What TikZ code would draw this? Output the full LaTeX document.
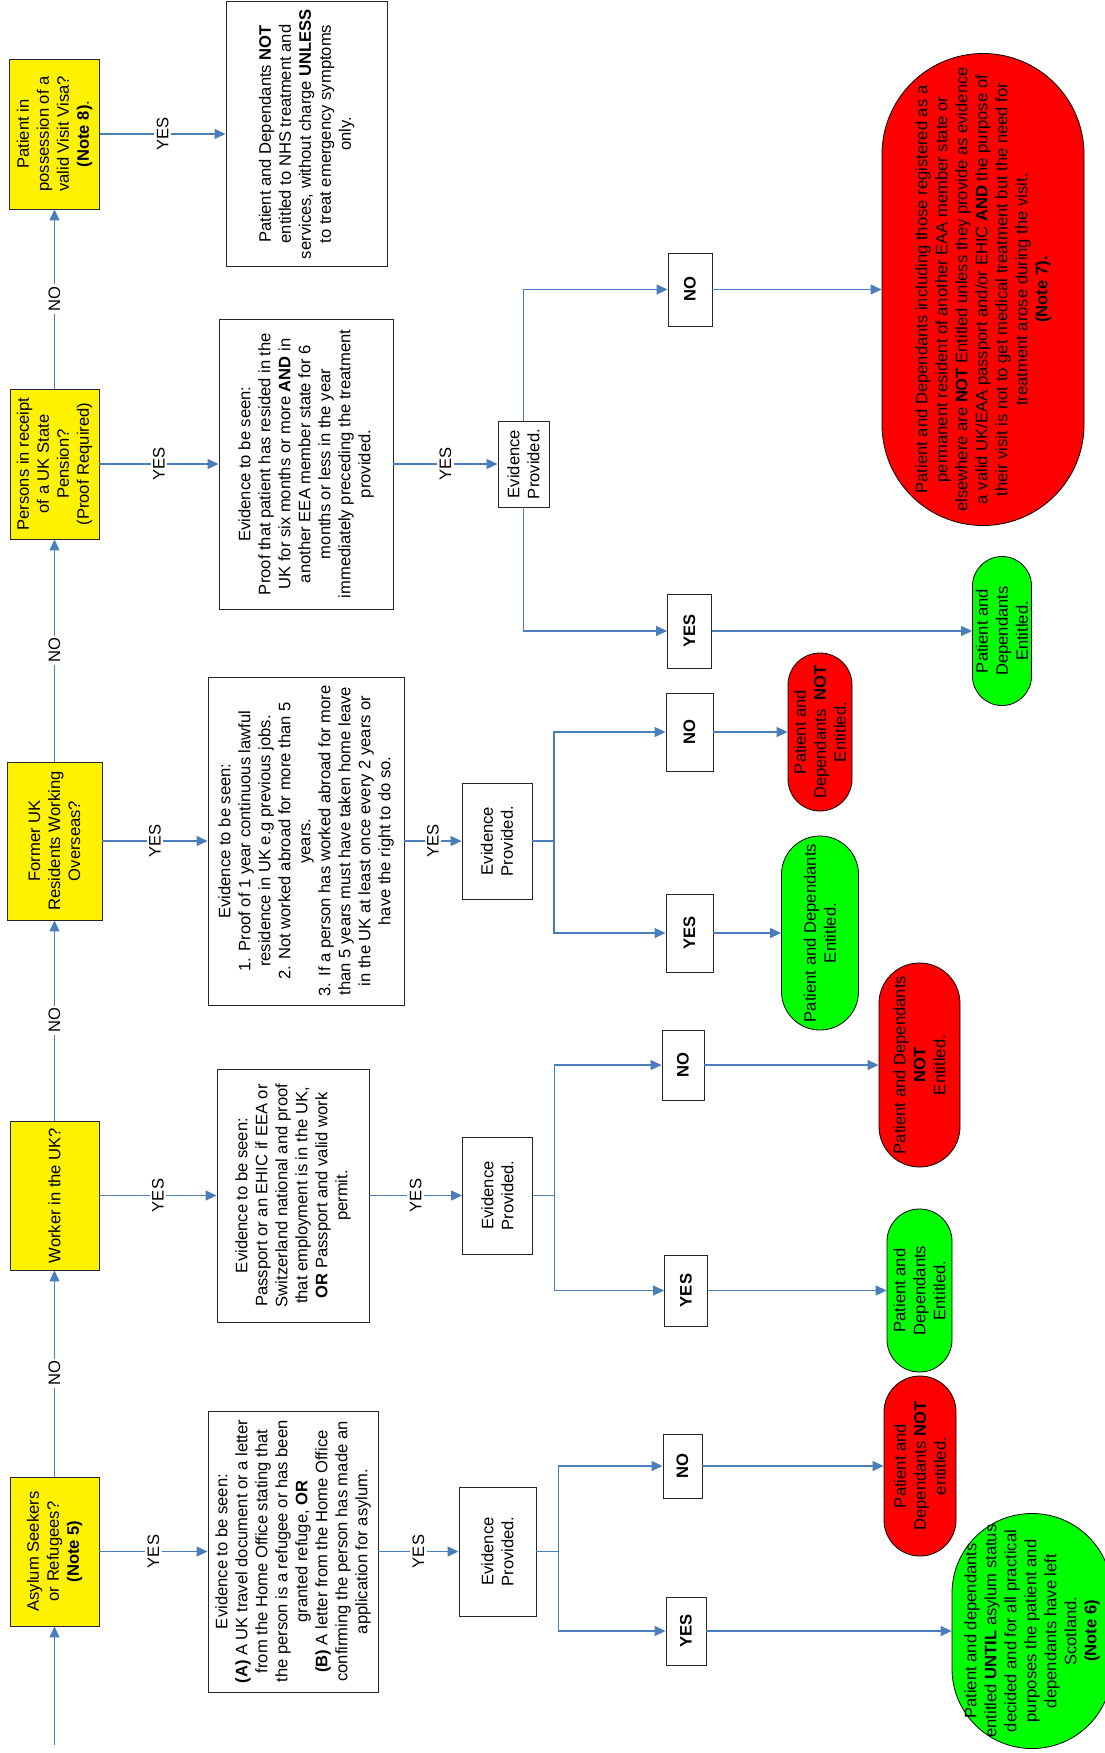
\documentclass[tikz,border=0pt]{standalone}
\usepackage{fontspec}
\setmainfont{Liberation Sans}
\usetikzlibrary{arrows.meta}
\definecolor{lineblue}{HTML}{4A7EBB}
\begin{document}
\begin{tikzpicture}[x=1pt,y=-1pt,
  every node/.style={font=\fontsize{16.6}{20}\selectfont, align=center, inner sep=2pt},
  rbox/.style={rotate=90, rectangle, draw=black!85, line width=0.9pt, fill=white},
  ybox/.style={rbox, fill=yellow},
  term/.style={rotate=90, rectangle, draw=black, line width=0.8pt},
  redt/.style={term, fill=red},
  greent/.style={term, fill=green},
  conn/.style={draw=lineblue, line width=1.2pt},
  arr/.style={conn, -{Triangle[length=11pt,width=10pt]}},
  lbl/.style={rotate=90, fill=white, inner sep=2.5pt}
]
\useasboundingbox (0,0) rectangle (1105,1753);
\clip (0,0) rectangle (1105,1753);

% ---------- question boxes (spine) ----------
\node[ybox, minimum width=150pt, minimum height=90pt] (visa) at (54.5,134)
  {Patient in\\possession of a\\valid Visit Visa?\\\textbf{(Note 8)}.};
\node[ybox, minimum width=150pt, minimum height=89pt] (pens) at (54.5,464)
  {Persons in receipt\\of a UK State\\Pension?\\(Proof Required)};
\node[ybox, minimum width=158pt, minimum height=95pt] (former) at (54.5,841)
  {Former UK\\Residents Working\\Overseas?};
\node[ybox, minimum width=149pt, minimum height=89pt] (worker) at (54.5,1195.5)
  {Worker in the UK?};
\node[ybox, minimum width=149pt, minimum height=89pt] (asylum) at (54.5,1551.5)
  {Asylum Seekers\\or Refugees?\\\textbf{(Note 5)}};

% ---------- evidence boxes ----------
\node[rbox, minimum width=265pt, minimum height=161pt] (visaRes) at (306.5,134)
  {Patient and Dependants \textbf{NOT}\\entitled to NHS treatment and\\services, without charge \textbf{UNLESS}\\to treat emergency symptoms\\only.};
\node[rbox, minimum width=290pt, minimum height=174pt] (pensEv) at (306,464)
  {Evidence to be seen:\\Proof that patient has resided in the\\UK for six months or more \textbf{AND} in\\another EEA member state for 6\\months or less in the year\\immediately preceding the treatment\\provided.};
\node[rbox, minimum width=328pt, minimum height=196pt] (formerEv) at (306,841)
  {Evidence to be seen:\\1. Proof of 1 year continuous lawful\\residence in UK e.g previous jobs.\\2. Not worked abroad for more than 5\\years.\\3. If a person has worked abroad for more\\than 5 years must have taken home leave\\in the UK at least once every 2 years or\\have the right to do so.};
\node[rbox, minimum width=253pt, minimum height=152pt] (workerEv) at (293,1195.5)
  {Evidence to be seen:\\Passport or an EHIC if EEA or\\Switzerland national and proof\\that employment is in the UK,\\\textbf{OR} Passport and valid work\\permit.};
\node[rbox, minimum width=281pt, minimum height=170pt] (asylumEv) at (293,1551.5)
  {Evidence to be seen:\\\textbf{(A)} A UK travel document or a letter\\from the Home Office stating that\\the person is a refugee or has been\\granted refuge, \textbf{OR}\\\textbf{(B)} A letter from the Home Office\\confirming the person has made an\\application for asylum.};

% ---------- evidence provided boxes ----------
\node[rbox, minimum width=86pt, minimum height=51pt] (pensEP) at (523.5,464) {Evidence\\Provided.};
\node[rbox, minimum width=116pt, minimum height=70pt] (formerEP) at (497,841) {Evidence\\Provided.};
\node[rbox, minimum width=117pt, minimum height=70pt] (workerEP) at (497.5,1195.5) {Evidence\\Provided.};
\node[rbox, minimum width=129pt, minimum height=77pt] (asylumEP) at (497.5,1551.5) {Evidence\\Provided.};

% ---------- yes / no boxes ----------
\node[rbox, minimum width=73pt, minimum height=44pt, font=\fontsize{16.6}{20}\selectfont\bfseries] (pensNo) at (690,289.5) {NO};
\node[rbox, minimum width=74pt, minimum height=44pt, font=\fontsize{16.6}{20}\selectfont\bfseries] (pensYes) at (689.5,631) {YES};
\node[rbox, minimum width=78pt, minimum height=47pt, font=\fontsize{16.6}{20}\selectfont\bfseries] (formerNo) at (689.5,732) {NO};
\node[rbox, minimum width=78pt, minimum height=47pt, font=\fontsize{16.6}{20}\selectfont\bfseries] (formerYes) at (689.5,933) {YES};
\node[rbox, minimum width=70pt, minimum height=42pt, font=\fontsize{16.6}{20}\selectfont\bfseries] (workerNo) at (683,1065) {NO};
\node[rbox, minimum width=71pt, minimum height=43pt, font=\fontsize{16.6}{20}\selectfont\bfseries] (workerYes) at (686,1290.5) {YES};
\node[rbox, minimum width=64pt, minimum height=39pt, font=\fontsize{16.6}{20}\selectfont\bfseries] (asylumNo) at (682.5,1466) {NO};
\node[rbox, minimum width=68pt, minimum height=40pt, font=\fontsize{16.6}{20}\selectfont\bfseries] (asylumYes) at (686,1631) {YES};

% ---------- outcomes ----------
\node[redt, minimum width=472pt, minimum height=202pt, rounded corners=100.9pt] (pensNoRes) at (983,289.5)
  {Patient and Dependants including those registered as a\\permanent resident of another EAA member state or\\elsewhere are \textbf{NOT} Entitled unless they provide as evidence\\a valid UK/EAA passport and/or EHIC \textbf{AND} the purpose of\\their visit is not to get medical treatment but the need for\\treatment arose during the visit.\\\textbf{(Note 7).}};
\node[greent, minimum width=149pt, minimum height=59pt, rounded corners=29.4pt] (pensYesRes) at (1002,631)
  {Patient and\\Dependants\\Entitled.};
\node[redt, minimum width=158pt, minimum height=64pt, rounded corners=31.9pt] (formerNoRes) at (820,732)
  {Patient and\\Dependants\ \ \textbf{NOT}\\Entitled.};
\node[greent, minimum width=194pt, minimum height=77pt, rounded corners=38.4pt] (formerYesRes) at (820,933)
  {Patient and Dependants\\Entitled.};
\node[redt, minimum width=204pt, minimum height=81pt, rounded corners=40.4pt] (workerNoRes) at (919.5,1065)
  {Patient and Dependants\\\textbf{NOT}\\Entitled.};
\node[greent, minimum width=163pt, minimum height=65pt, rounded corners=32.4pt] (workerYesRes) at (919.5,1290.5)
  {Patient and\\Dependants\\Entitled.};
\node[redt, minimum width=180pt, minimum height=72pt, rounded corners=35.9pt] (asylumNoRes) at (920,1466)
  {Patient and\\Dependants \textbf{NOT}\\entitled.};
\node[greent, minimum width=235pt, minimum height=160pt, rounded corners=79.9pt] (asylumYesRes) at (1032,1631)
  {Patient and dependants\\entitled \textbf{UNTIL} asylum status\\decided and for all practical\\purposes the patient and\\dependants have left\\Scotland.\\\textbf{(Note 6)}};

% ---------- spine connectors ----------
\coordinate (start) at (54.5,1745);
\draw[arr] (start) -- (asylum.west);
\draw[arr] (asylum.east) -- node[lbl] {NO} (worker.west);
\draw[arr] (worker.east) -- node[lbl] {NO} (former.west);
\draw[arr] (former.east) -- node[lbl] {NO} (pens.west);
\draw[arr] (pens.east) -- node[lbl] {NO} (visa.west);

% ---------- yes to evidence ----------
\draw[arr] (visa.south) -- node[lbl] {YES} (visaRes.north);
\draw[arr] (pens.south) -- node[lbl] {YES} (pensEv.north);
\draw[arr] (former.south) -- node[lbl] {YES} (formerEv.north);
\draw[arr] (worker.south) -- node[lbl] {YES} (workerEv.north);
\draw[arr] (asylum.south) -- node[lbl] {YES} (asylumEv.north);

\draw[arr] (pensEv.south) -- node[lbl] {YES} (pensEP.north);
\draw[arr] (formerEv.south) -- node[lbl] {YES} (formerEP.north);
\draw[arr] (workerEv.south) -- node[lbl] {YES} (workerEP.north);
\draw[arr] (asylumEv.south) -- node[lbl] {YES} (asylumEP.north);

% ---------- branches ----------
\draw[arr] (pensEP.east) |- (pensNo.north);
\draw[arr] (pensEP.west) |- (pensYes.north);

\coordinate (formerFork) at (554,841);
\draw[conn] (formerEP.south) -- (formerFork);
\draw[arr] (formerFork) |- (formerNo.north);
\draw[arr] (formerFork) |- (formerYes.north);

\coordinate (workerFork) at (554.5,1195.5);
\draw[conn] (workerEP.south) -- (workerFork);
\draw[arr] (workerFork) |- (workerNo.north);
\draw[arr] (workerFork) |- (workerYes.north);

\coordinate (asylumFork) at (558.5,1551.5);
\draw[conn] (asylumEP.south) -- (asylumFork);
\draw[arr] (asylumFork) |- (asylumNo.north);
\draw[arr] (asylumFork) |- (asylumYes.north);

% ---------- outcomes arrows ----------
\draw[arr] (pensNo.south) -- (pensNoRes.north);
\draw[arr] (pensYes.south) -- (pensYesRes.north);
\draw[arr] (formerNo.south) -- (formerNoRes.north);
\draw[arr] (formerYes.south) -- (formerYesRes.north);
\draw[arr] (workerNo.south) -- (workerNoRes.north);
\draw[arr] (workerYes.south) -- (workerYesRes.north);
\draw[arr] (asylumNo.south) -- (asylumNoRes.north);
\draw[arr] (asylumYes.south) -- (asylumYesRes.north);
\end{tikzpicture}
\end{document}
